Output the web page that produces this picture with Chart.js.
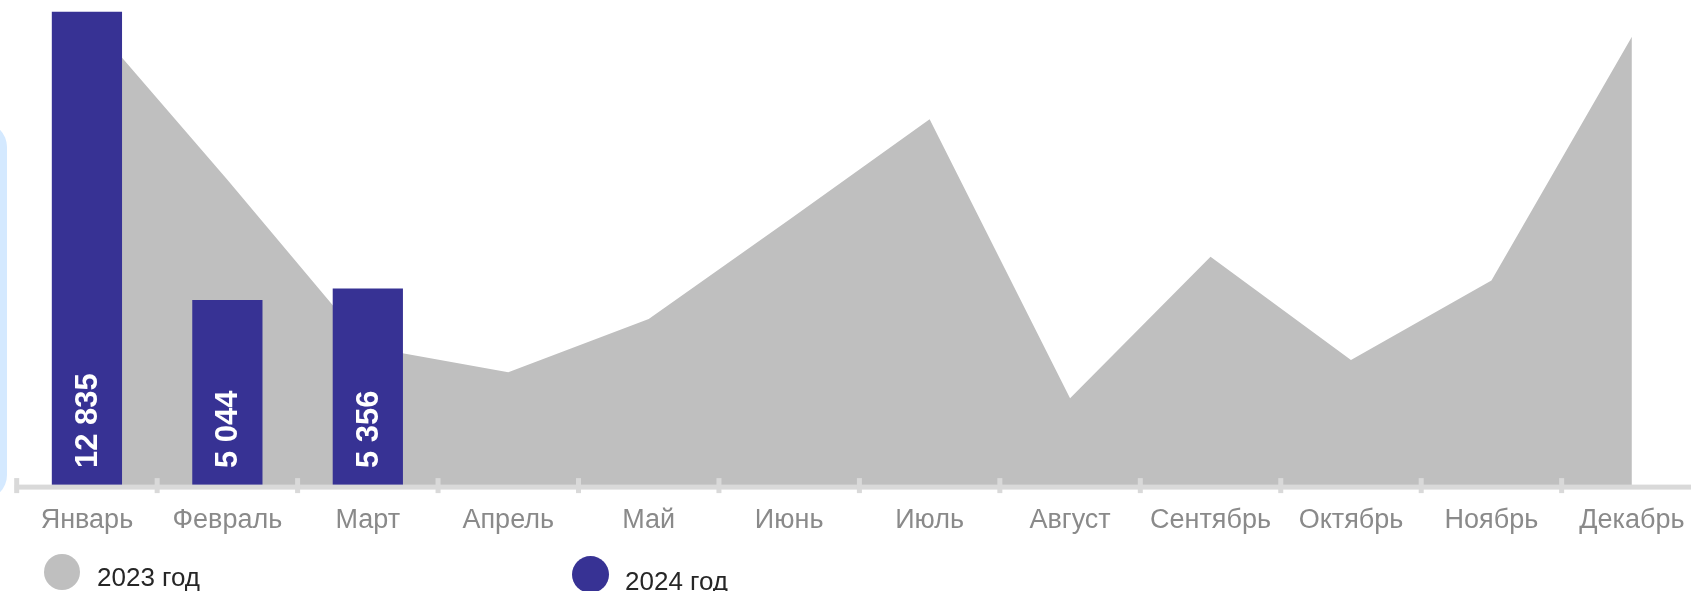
<!DOCTYPE html>
<html>
<head>
<meta charset="utf-8">
<script src="https://cdn.jsdelivr.net/npm/chart.js@4/dist/chart.umd.min.js"></script>
<style>
    html, body { margin: 0; padding: 0; background: #fff; overflow: hidden; }
    body { width: 1691px; height: 591px; position: relative; font-family: "Liberation Sans", Arial, sans-serif; }
    #side { position: absolute; left: -100px; top: 122px; width: 107px; height: 378px; background: #d4e9ff; border-radius: 25px; }
    #chartBox { position: absolute; left: 0; top: 0; width: 1712px; height: 591px; }
    .leg { position: absolute; font-size: 26px; color: #262626; line-height: 1; }
    .dot { position: absolute; border-radius: 50%; }
</style>
</head>
<body>
<div id="side"></div>
<div id="chartBox"><canvas id="chart" width="1712" height="591"></canvas></div>

<div class="dot" style="left:44px; top:554px; width:36px; height:36px; background:#bfbfbf;"></div>
<div class="leg" style="left:97px; top:564px;">2023 год</div>
<div class="dot" style="left:572px; top:556px; width:37px; height:37px; background:#373294;"></div>
<div class="leg" style="left:625px; top:568px;">2024 год</div>

<script>
const months = ['Январь', 'Февраль', 'Март', 'Апрель', 'Май', 'Июнь', 'Июль', 'Август', 'Сентябрь', 'Октябрь', 'Ноябрь', 'Декабрь'];
const values2023 = [12690, 8290, 3770, 3090, 4530, 7210, 9930, 2390, 6210, 3420, 5570, 12160];
const values2024 = [12835, 5044, 5356, null, null, null, null, null, null, null, null, null];

const gray = '#bfbfbf';
const blue = '#373294';
const axisColor = '#d9d9d9';

function formatNum(v) {
    return String(v).replace(/\B(?=(\d{3})+(?!\d))/g, ' ');
}

// axis line with small tick marks crossing it
const axisPlugin = {
    id: 'axisLine',
    afterDatasetsDraw(chart) {
        const ctx = chart.ctx;
        const x = chart.scales.x;
        const y0 = chart.scales.y.getPixelForValue(0) + 0.5;
        const step = (x.right - x.left) / months.length;
        ctx.save();
        ctx.fillStyle = axisColor;
        ctx.fillRect(x.left - 2, y0 - 2.5, chart.width, 5);
        for (let i = 0; i <= months.length; i++) {
            const px = x.left + i * step;
            ctx.fillRect(px - 2.5, y0 - 9, 5, 15);
        }
        ctx.restore();
    }
};

// vertical white values inside the 2024 bars
const barLabels = {
    id: 'barLabels',
    afterDatasetsDraw(chart) {
        const ctx = chart.ctx;
        const meta = chart.getDatasetMeta(0);
        ctx.save();
        ctx.fillStyle = '#ffffff';
        ctx.font = 'bold 31px "Liberation Sans", Arial, sans-serif';
        ctx.textAlign = 'left';
        ctx.textBaseline = 'middle';
        meta.data.forEach(function(bar, i) {
            const v = values2024[i];
            if (v === null) return;
            ctx.save();
            ctx.translate(bar.x + 1.5, bar.base - 18.5);
            ctx.rotate(-Math.PI / 2);
            ctx.fillText(formatNum(v), 0, 0);
            ctx.restore();
        });
        ctx.restore();
    }
};

new Chart(document.getElementById('chart'), {
    data: {
        labels: months,
        datasets: [
            {
                type: 'bar',
                label: '2024 год',
                data: values2024,
                backgroundColor: blue,
                barPercentage: 0.5,
                categoryPercentage: 1,
                order: 0
            },
            {
                type: 'line',
                label: '2023 год',
                data: values2023,
                backgroundColor: gray,
                borderColor: gray,
                borderWidth: 0,
                pointRadius: 0,
                tension: 0,
                fill: 'origin',
                order: 1
            }
        ]
    },
    options: {
        responsive: false,
        animation: false,
        layout: { padding: { left: 16.7, right: 9.9, top: 0, bottom: 0 } },
        plugins: {
            legend: { display: false },
            tooltip: { enabled: false }
        },
        scales: {
            x: {
                offset: true,
                grid: { display: false, drawTicks: false },
                border: { display: false },
                ticks: {
                    color: '#8a8a8a',
                    padding: 18,
                    maxRotation: 0,
                    autoSkip: false,
                    font: { family: '"Liberation Sans", Arial, sans-serif', size: 27 }
                },
                afterFit: function(scale) { scale.height = 104.4; }
            },
            y: {
                display: false,
                min: 0,
                max: 13150
            }
        }
    },
    plugins: [axisPlugin, barLabels]
});
</script>
</body>
</html>
